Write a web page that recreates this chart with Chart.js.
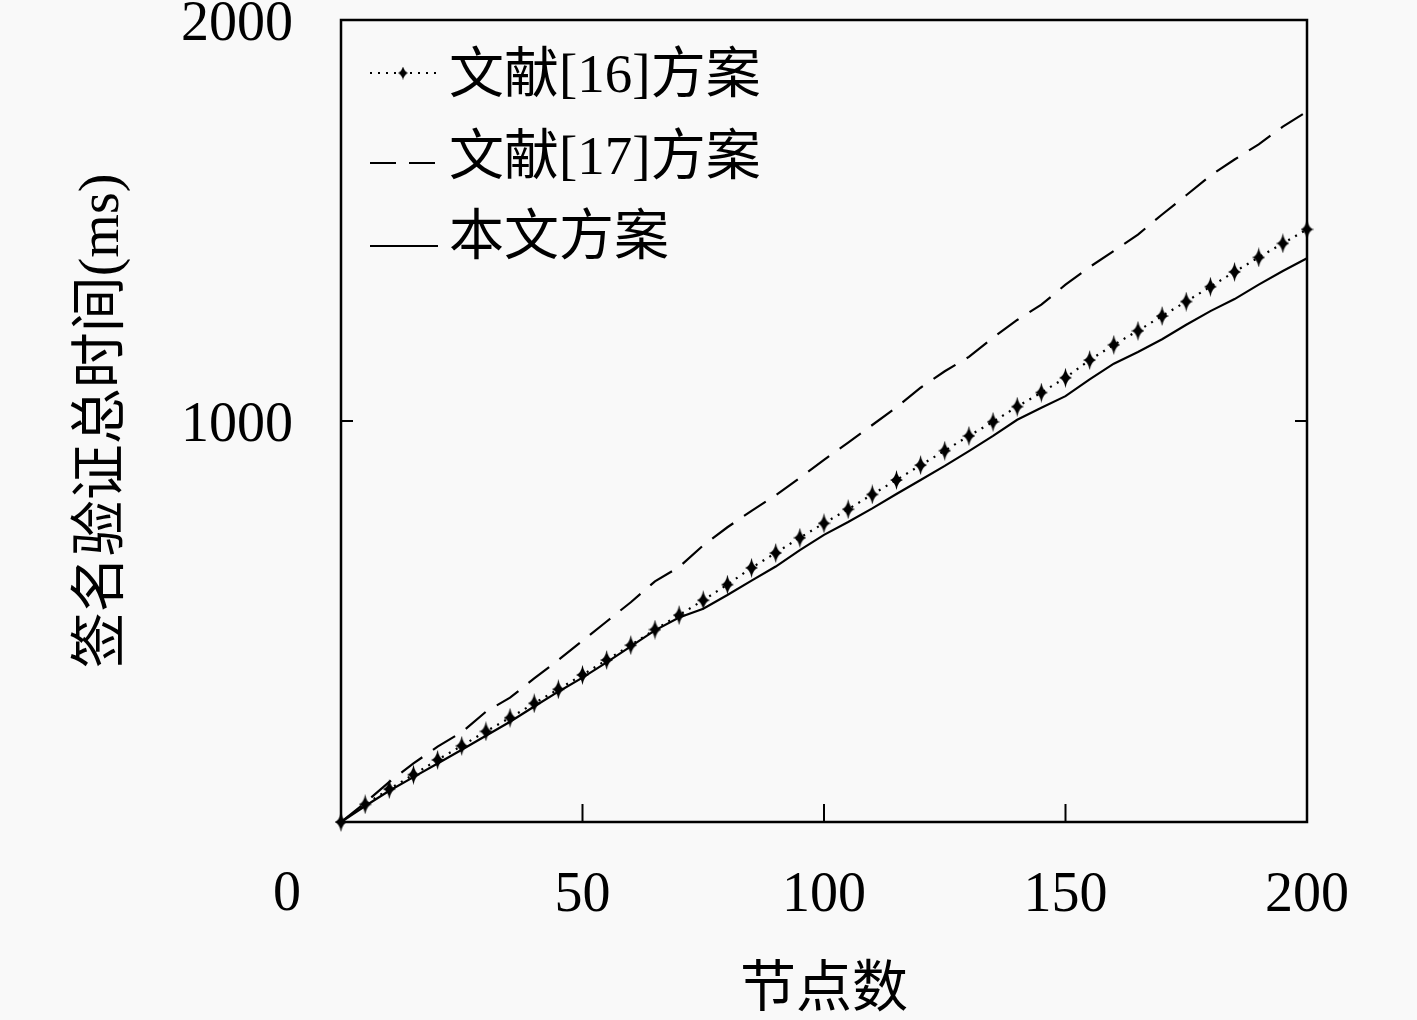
<!DOCTYPE html>
<html>
<head>
<meta charset="utf-8">
<script src="https://cdn.jsdelivr.net/npm/chart.js@4"></script>
<style>
  html, body { margin: 0; padding: 0; background: #f9f9f9; }
  #wrap { width: 1417px; height: 1020px; }
</style>
</head>
<body>
<div id="wrap"><canvas id="chart"></canvas></div>
<script>
// node counts (x axis)
const nodes = [0, 5, 10, 15, 20, 25, 30, 35, 40, 45, 50, 55, 60, 65, 70, 75, 80, 85, 90, 95, 100,
  105, 110, 115, 120, 125, 130, 135, 140, 145, 150, 155, 160, 165, 170, 175, 180, 185, 190, 195, 200];

// total signature verification time (ms)
const ref16 = [0, 44, 82, 118, 155, 190, 226, 260, 296, 331, 367, 404, 441, 480, 516, 553, 592, 634, 671, 709, 745,
  780, 817, 853, 890, 926, 963, 998, 1036, 1071, 1108, 1152, 1190, 1225, 1262, 1298, 1335, 1372, 1408, 1443, 1478];
const ref17 = [0, 48, 100, 146, 188, 224, 275, 310, 358, 404, 452, 500, 548, 600, 636, 690, 735, 776, 815, 858, 903,
  946, 990, 1034, 1083, 1124, 1160, 1208, 1252, 1290, 1340, 1384, 1424, 1465, 1515, 1563, 1612, 1652, 1690, 1734, 1772];
const ours = [0, 40, 78, 112, 146, 180, 215, 250, 288, 325, 360, 398, 438, 478, 510, 532, 566, 602, 637, 678, 716,
  748, 782, 818, 853, 888, 925, 963, 1003, 1033, 1062, 1104, 1143, 1172, 1204, 1240, 1274, 1304, 1340, 1374, 1406];

const seriesNames = ['文献[16]方案', '文献[17]方案', '本文方案'];
const xTicks = [0, 50, 100, 150, 200];
const yTicks = [0, 1000, 2000];

const FONT = '"Liberation Serif", "Noto Sans CJK SC", serif';

function makeDiamond(w, h) {
  const c = document.createElement('canvas');
  c.width = w; c.height = h;
  const g = c.getContext('2d');
  g.fillStyle = '#000';
  g.beginPath();
  g.moveTo(w / 2, 0);
  g.quadraticCurveTo(w / 2 + 1.5, h / 2 - 1.5, w, h / 2);
  g.quadraticCurveTo(w / 2 + 1.5, h / 2 + 1.5, w / 2, h);
  g.quadraticCurveTo(w / 2 - 1.5, h / 2 + 1.5, 0, h / 2);
  g.quadraticCurveTo(w / 2 - 1.5, h / 2 - 1.5, w / 2, 0);
  g.fill();
  return c;
}
const bigDiamond = makeDiamond(13, 20);
const smallDiamond = makeDiamond(10, 13);

function pts(arr) {
  return nodes.map((n, i) => ({ x: n, y: arr[i] }));
}

// frame, inward ticks, lone "0" label and the in-plot legend
const decor = {
  id: 'decor',
  beforeDraw(chart) {
    const ctx = chart.ctx;
    ctx.save();
    ctx.fillStyle = '#f9f9f9';
    ctx.fillRect(0, 0, chart.width, chart.height);
    ctx.restore();
  },
  afterDraw(chart) {
    const { ctx, chartArea: a, scales: { x, y } } = chart;
    ctx.save();
    ctx.strokeStyle = '#000';
    ctx.lineWidth = 2.5;
    ctx.setLineDash([]);
    ctx.strokeRect(a.left, a.top, a.right - a.left, a.bottom - a.top);

    ctx.lineWidth = 2;
    xTicks.slice(1, -1).forEach(v => {
      const px = x.getPixelForValue(v);
      ctx.beginPath(); ctx.moveTo(px, a.bottom); ctx.lineTo(px, a.bottom - 18); ctx.stroke();
    });
    yTicks.slice(1, -1).forEach(v => {
      const py = y.getPixelForValue(v);
      ctx.beginPath(); ctx.moveTo(a.left, py); ctx.lineTo(a.left + 12, py); ctx.stroke();
      ctx.beginPath(); ctx.moveTo(a.right, py); ctx.lineTo(a.right - 12, py); ctx.stroke();
    });

    ctx.fillStyle = '#000';
    ctx.font = '56px ' + FONT;
    ctx.textAlign = 'center';
    ctx.textBaseline = 'middle';
    ctx.fillText(String(xTicks[0]), x.getPixelForValue(xTicks[0]) - 54, a.bottom + 73);

    // legend
    const rows = [78, 160, 240];
    const lineY = [73, 163, 246];
    chart.data.datasets.forEach((ds, i) => {
      ctx.strokeStyle = '#000';
      ctx.lineWidth = 2;
      ctx.setLineDash(ds.borderDash || []);
      ctx.beginPath();
      ctx.moveTo(a.left + 29, lineY[i]);
      ctx.lineTo(a.left + 97, lineY[i]);
      ctx.stroke();
      if (ds.pointRadius > 0) {
        ctx.drawImage(smallDiamond, a.left + 62 - 5, lineY[i] - 6.5);
      }
      ctx.setLineDash([]);
      ctx.font = '55px ' + FONT;
      ctx.textAlign = 'left';
      ctx.textBaseline = 'middle';
      ctx.fillText(ds.label, a.left + 108, rows[i]);
    });
    ctx.restore();
  }
};

new Chart(document.getElementById('chart'), {
  type: 'line',
  data: {
    datasets: [
      {
        label: seriesNames[0],
        data: pts(ref16),
        borderColor: '#000',
        borderWidth: 2.2,
        borderDash: [2, 6],
        pointStyle: bigDiamond,
        pointRadius: 6,
        pointHoverRadius: 6,
        clip: false
      },
      {
        label: seriesNames[1],
        data: pts(ref17),
        borderColor: '#000',
        borderWidth: 2.2,
        borderDash: [26, 13],
        pointRadius: 0,
        clip: false
      },
      {
        label: seriesNames[2],
        data: pts(ours),
        borderColor: '#000',
        borderWidth: 2.2,
        pointRadius: 0,
        clip: false
      }
    ]
  },
  options: {
    responsive: true,
    maintainAspectRatio: false,
    animation: false,
    layout: { padding: { top: 20, right: 110, left: 0, bottom: 0 } },
    plugins: {
      legend: { display: false },
      tooltip: { enabled: false }
    },
    scales: {
      x: {
        type: 'linear',
        min: 0,
        max: 200,
        afterFit(s) { s.height = 198; s.paddingLeft = 0; s.paddingRight = 0; },
        afterBuildTicks(s) { s.ticks = xTicks.map(v => ({ value: v })); },
        grid: { display: false, drawTicks: false },
        border: { display: false },
        ticks: {
          padding: 41,
          color: '#000',
          font: { family: FONT, size: 56 },
          maxRotation: 0,
          callback: v => (v === 0 ? '' : String(v))
        },
        title: {
          display: true,
          text: '节点数',
          color: '#000',
          font: { family: FONT, size: 56, lineHeight: 1.0 },
          padding: { top: 0, bottom: 1 }
        }
      },
      y: {
        min: 0,
        max: 2000,
        afterFit(s) { s.width = 341; s.paddingTop = 0; s.paddingBottom = 0; },
        afterBuildTicks(s) { s.ticks = yTicks.map(v => ({ value: v })); },
        grid: { display: false, drawTicks: false },
        border: { display: false },
        ticks: {
          padding: 48,
          labelOffset: 5,
          color: '#000',
          font: { family: FONT, size: 56 },
          callback: v => (v === 0 ? '' : String(v))
        },
        title: {
          display: true,
          text: '签名验证总时间(ms)',
          color: '#000',
          font: { family: FONT, size: 56 },
          padding: { top: 70, bottom: 0 }
        }
      }
    }
  },
  plugins: [decor]
});
</script>
</body>
</html>
